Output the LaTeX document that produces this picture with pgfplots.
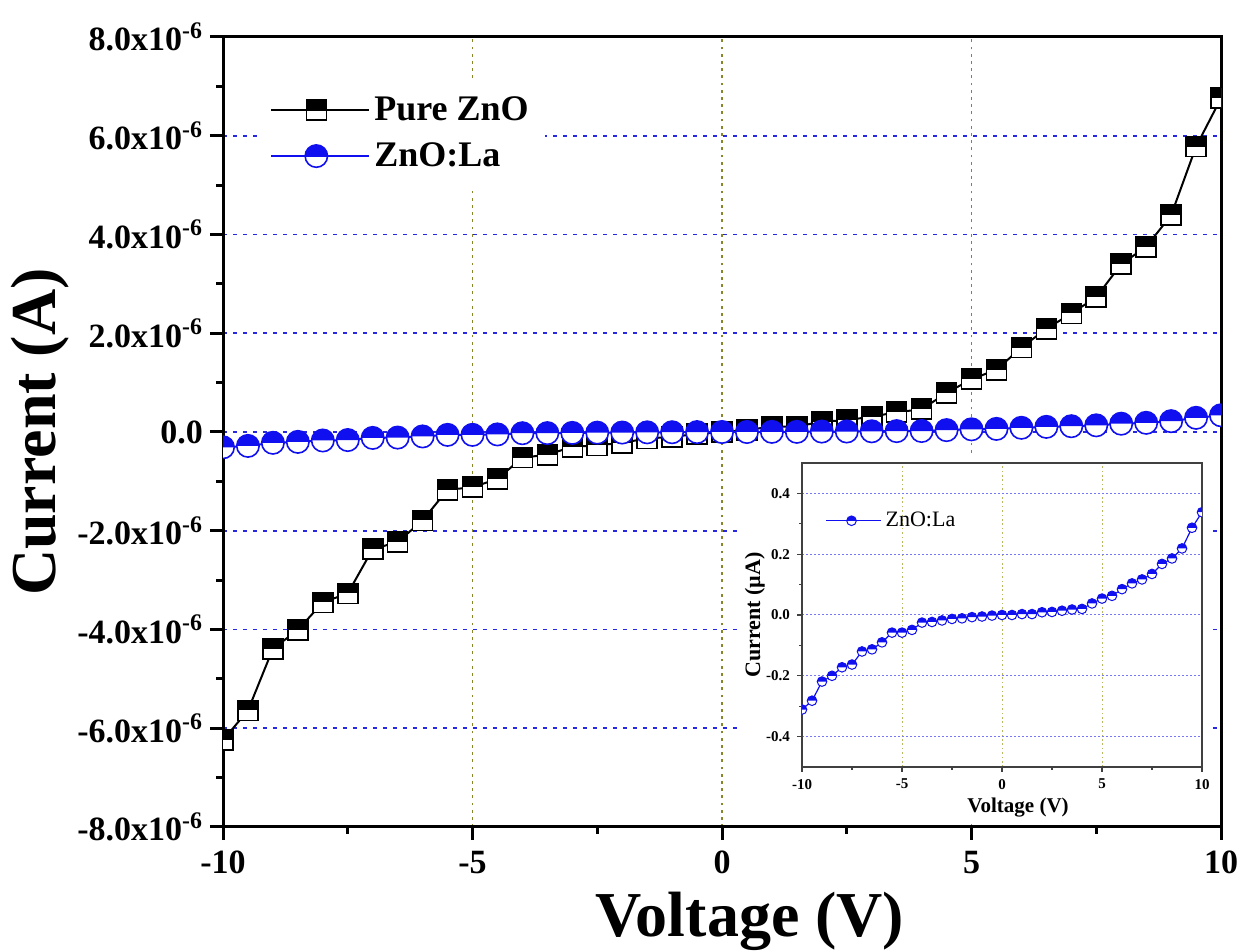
\documentclass[border=0pt]{standalone}
\usepackage{fontspec}
\setmainfont{Liberation Serif}
\usepackage{pgfplots}
\pgfplotsset{compat=1.18}
\usepackage{pgfplotstable}

\definecolor{gridblue}{RGB}{40,40,225}
\definecolor{gridolive}{RGB}{135,135,40}
\definecolor{insetblue}{RGB}{120,120,245}
\definecolor{insetolive}{RGB}{185,185,95}
\definecolor{lablue}{RGB}{15,15,240}

% square: upper half black, lower half white
\pgfdeclareplotmark{hsq}{%
  \pgfscope
  \pgfsetfillcolor{white}%
  \pgfpathrectangle{\pgfpoint{-\pgfplotmarksize}{-\pgfplotmarksize}}{\pgfpoint{2\pgfplotmarksize}{2\pgfplotmarksize}}%
  \pgfusepathqfill
  \pgfsetfillcolor{black}%
  \pgfpathrectangle{\pgfpoint{-\pgfplotmarksize}{0pt}}{\pgfpoint{2\pgfplotmarksize}{\pgfplotmarksize}}%
  \pgfusepathqfill
  \pgfpathrectangle{\pgfpoint{-\pgfplotmarksize}{-\pgfplotmarksize}}{\pgfpoint{2\pgfplotmarksize}{2\pgfplotmarksize}}%
  \pgfusepathqstroke
  \endpgfscope
}
% circle: upper half blue, lower half white
\pgfdeclareplotmark{hci}{%
  \pgfscope
  \pgfsetfillcolor{white}%
  \pgfpathcircle{\pgfpointorigin}{\pgfplotmarksize}%
  \pgfusepathqfill
  \pgfsetfillcolor{lablue}%
  \pgfpathmoveto{\pgfpoint{\pgfplotmarksize}{0pt}}%
  \pgfpatharc{0}{180}{\pgfplotmarksize}%
  \pgfpathclose
  \pgfusepathqfill
  \pgfpathcircle{\pgfpointorigin}{\pgfplotmarksize}%
  \pgfusepathqstroke
  \endpgfscope
}

% current in microampere
\pgfplotstableread{
V I
-10 -6.24
-9.5 -5.64
-9 -4.39
-8.5 -4.01
-8 -3.45
-7.5 -3.27
-7 -2.37
-6.5 -2.23
-6 -1.79
-5.5 -1.17
-5 -1.12
-4.5 -0.95
-4 -0.52
-3.5 -0.46
-3 -0.30
-2.5 -0.27
-2 -0.22
-1.5 -0.13
-1 -0.10
-0.5 -0.04
0 0.00
0.5 0.04
1 0.11
1.5 0.11
2 0.21
2.5 0.24
3 0.31
3.5 0.40
4 0.46
4.5 0.79
5 1.07
5.5 1.26
6 1.71
6.5 2.09
7 2.40
7.5 2.73
8 3.40
8.5 3.75
9 4.39
9.5 5.78
10 6.76
}\pureZnO

\pgfplotstableread{
V I
-10 -0.311
-9.5 -0.282
-9 -0.219
-8.5 -0.200
-8 -0.172
-7.5 -0.163
-7 -0.120
-6.5 -0.113
-6 -0.090
-5.5 -0.058
-5 -0.058
-4.5 -0.049
-4 -0.025
-3.5 -0.023
-3 -0.018
-2.5 -0.013
-2 -0.011
-1.5 -0.007
-1 -0.005
-0.5 -0.002
0 0.000
0.5 0.000
1 0.003
1.5 0.003
2 0.009
2.5 0.010
3 0.014
3.5 0.018
4 0.020
4.5 0.038
5 0.054
5.5 0.063
6 0.085
6.5 0.104
7 0.117
7.5 0.135
8 0.168
8.5 0.186
9 0.219
9.5 0.287
10 0.338
}\ZnOLa

\begin{document}
\begin{tikzpicture}
\begin{axis}[
  at={(111.5pt,62pt)}, anchor=south west,
  scale only axis, width=499pt, height=395pt,
  xmin=-10, xmax=10, ymin=-8, ymax=8,
  xtick={-10,-5,0,5,10}, xticklabels={-10,-5,0,5,10},
  ytick={-8,-6,-4,-2,0,2,4,6,8},
  yticklabels={-8.0x10\textsuperscript{-6},-6.0x10\textsuperscript{-6},-4.0x10\textsuperscript{-6},-2.0x10\textsuperscript{-6},0.0,2.0x10\textsuperscript{-6},4.0x10\textsuperscript{-6},6.0x10\textsuperscript{-6},8.0x10\textsuperscript{-6}},
  minor x tick num=1, minor y tick num=1,
  xtick pos=bottom, ytick pos=left,
  tick align=outside,
  major tick length=6.5pt, minor tick length=3.5pt,
  axis line style={line width=1.5pt},
  every tick/.style={black, line width=1.5pt},
  ticklabel style={font=\fontsize{17}{20}\selectfont\bfseries},
  xticklabel style={yshift=-2pt},
  xmajorgrids, ymajorgrids,
  major x grid style={gridolive, line width=0.9pt, dash pattern=on 1.4pt off 2.2pt},
  major y grid style={gridblue, line width=0.9pt, dash pattern=on 2pt off 3pt},
  clip marker paths=true,
  xlabel={Voltage (V)}, ylabel={Current (A)},
  every axis x label/.style={at={(axis description cs:0.528,-0.139)}, anchor=base, font=\fontsize{32}{36}\selectfont\bfseries},
  every axis y label/.style={at={(axis description cs:-0.1683,0.5)}, rotate=90, anchor=base, font=\fontsize{32}{36}\selectfont\bfseries},
  legend style={at={(axis description cs:0.035,0.945)}, anchor=north west, draw=none, fill=white,
    font=\fontsize{18}{22}\selectfont\bfseries, row sep=5.5pt, inner xsep=6pt, inner ysep=6pt},
  legend cell align=left,
  legend image code/.code={\draw[mark repeat=2,mark phase=2,#1] plot coordinates {(0pt,0pt) (22.5pt,0pt) (45pt,0pt)};
    \path (0pt,0pt) -- (49pt,0pt);},
]
\addplot[black, line width=1pt, mark=hsq, mark size=5pt, mark options={draw=black, line width=0.8pt, solid}] table[x=V, y=I] {\pureZnO};
\addplot[lablue, line width=1pt, mark=hci, mark size=5.6pt, mark options={draw=lablue, line width=0.8pt, solid}] table[x=V, y=I] {\ZnOLa};
\legend{Pure ZnO, ZnO:La}
\end{axis}

% white panel under the inset
\fill[white] (370pt,64.5pt) rectangle (605pt,248pt);

\begin{axis}[
  at={(401pt,92pt)}, anchor=south west,
  scale only axis, width=200pt, height=152pt,
  xmin=-10, xmax=10, ymin=-0.5, ymax=0.5,
  xtick={-10,-5,0,5,10}, xticklabels={-10,-5,0,5,10},
  ytick={-0.4,-0.2,0,0.2,0.4}, yticklabels={-0.4,-0.2,0.0,0.2,0.4},
  minor x tick num=1, minor y tick num=1,
  xtick pos=bottom, ytick pos=left,
  tick align=outside,
  major tick length=2.5pt, minor tick length=1.5pt,
  axis line style={line width=0.6pt, black!75},
  every tick/.style={black!75, line width=0.6pt},
  ticklabel style={font=\fontsize{7.5}{9}\selectfont\bfseries},
  xmajorgrids, ymajorgrids,
  major x grid style={insetolive, line width=0.5pt, dash pattern=on 0.8pt off 1.4pt},
  major y grid style={insetblue, line width=0.5pt, dash pattern=on 0.8pt off 1.2pt},
  clip marker paths=true,
  xlabel={Voltage (V)}, ylabel={Current (µA)},
  every axis x label/.style={at={(axis description cs:0.54,-0.151)}, anchor=base, font=\fontsize{10.5}{12}\selectfont\bfseries},
  every axis y label/.style={at={(axis description cs:-0.105,0.5)}, rotate=90, anchor=base, font=\fontsize{11}{13}\selectfont\bfseries},
  legend style={at={(axis description cs:0.0525,0.81)}, anchor=west, draw=none, fill=none,
    font=\fontsize{11}{13}\selectfont, inner sep=1pt},
  legend image code/.code={\draw[mark repeat=2,mark phase=2,#1] plot coordinates {(0pt,0pt) (12.75pt,0pt) (25.5pt,0pt)};
    \path (0pt,0pt) -- (27.5pt,0pt);},
]
\addplot[lablue, line width=0.6pt, mark=hci, mark size=2.4pt, mark options={draw=lablue, line width=0.5pt, solid}] table[x=V, y=I] {\ZnOLa};
\legend{ZnO:La}
\end{axis}

\pgfresetboundingbox
\path[use as bounding box] (0pt,0pt) rectangle (620pt,475.5pt);
\end{tikzpicture}
\end{document}
